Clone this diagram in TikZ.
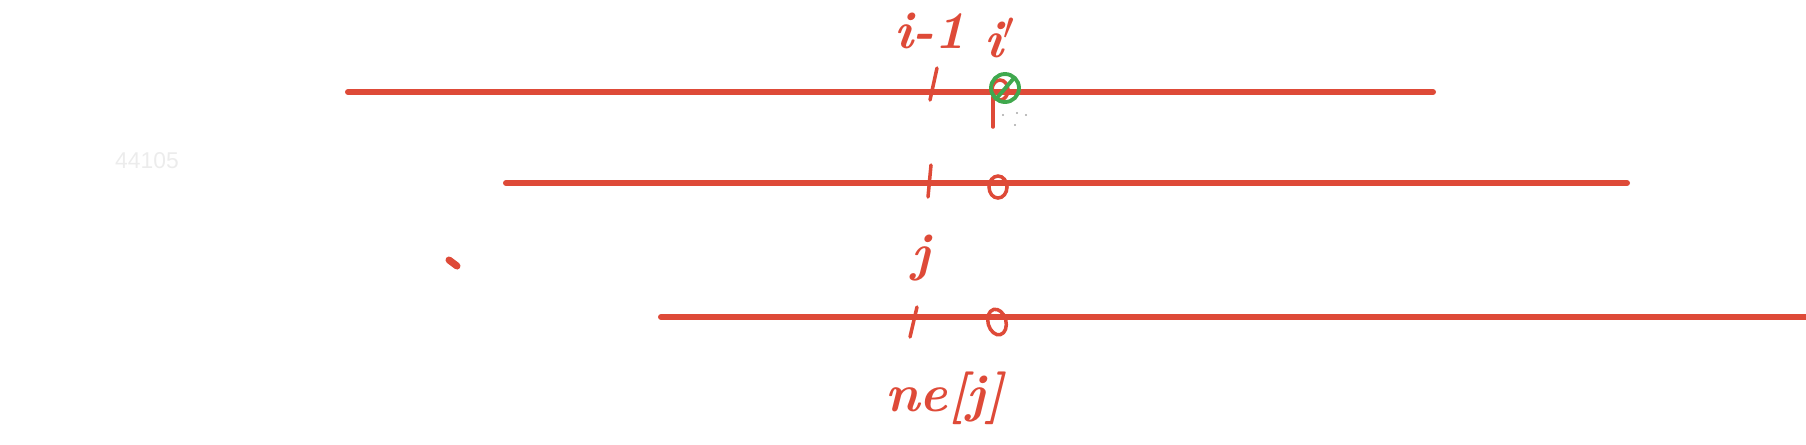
\documentclass[tikz,border=0pt]{standalone}
\usepackage{fontspec}
\newfontfamily\markfont{Liberation Sans}
\definecolor{ink}{RGB}{222,74,56}
\definecolor{pengreen}{RGB}{64,168,78}
\definecolor{faint}{RGB}{236,236,236}

\begin{document}
\begin{tikzpicture}[
  x=0.01cm, y=-0.01cm,
  every node/.style = {font=\fontsize{15}{15}\selectfont\bfseries\itshape, text=ink, inner sep=0pt},
  track/.style = {ink, line width=1.7pt, line cap=round},
  tick/.style  = {ink, line width=1pt, line cap=round},
  zero/.style  = {ink, line width=1pt},
]

%% ── Canvas: 1 unit = 1 px of the 1806 x 444 sheet ───────────────────────────
\useasboundingbox (0,0) rectangle (1806,444);

%% ── Row y-coordinates ────────────────────────────────────────────────────────
\def\yA{92}    % top row
\def\yB{183}   % middle row
\def\yC{317}   % bottom row

%% ── Rows ─────────────────────────────────────────────────────────────────────
\coordinate (rowA-w) at (348, \yA);
\coordinate (rowA-e) at (1433, \yA);
\coordinate (rowB-w) at (506, \yB);
\coordinate (rowB-e) at (1627, \yB);
\coordinate (rowC-w) at (661, \yC);
\coordinate (rowC-e) at (1806, \yC);
\draw[track] (rowA-w) -- (rowA-e);
\draw[track] (rowB-w) -- (rowB-e);
\draw[track] (rowC-w) -- (rowC-e);

%% ── Ticks on the i-1 column ──────────────────────────────────────────────────
\draw[tick] (937, 68) -- (930, 100);
\draw[tick] (931, 165) -- (928, 197);
\draw[tick] (917, 307) -- (910, 337);

%% ── Zeros on the i' column ───────────────────────────────────────────────────
\draw[zero] (1000, 90) ellipse [x radius=0.08cm, y radius=0.1cm];
\draw[zero] (998, 187) ellipse [x radius=0.09cm, y radius=0.11cm];
\draw[zero, rotate around={15:(997,322)}] (997, 322) ellipse [x radius=0.09cm, y radius=0.13cm];
\draw[tick] (993, 97) -- (993, 127);

% green mark on the top zero
\draw[pengreen, line width=1.1pt] (1005, 88) circle [radius=0.14cm];
\draw[pengreen, line width=1.1pt, line cap=round] (996, 99) -- (1014, 78);

% stray dots
\foreach \px/\py in {1003/115, 1017/113, 1026/115, 1015/125}{
  \fill[gray!70] (\px, \py) circle [radius=0.012cm];
}
\draw[ink, line width=2pt, line cap=round] (449, 260) -- (457, 266);

%% ── Labels ───────────────────────────────────────────────────────────────────
\node (lblPrev) at (930, 31) {i-1};
\node (lblCur)  at (1000, 38) {i$'$};
\node (lblJ)    at (921, 258) {j};
\node (lblNe)   at (945, 398) {ne[j]};

%% ── Watermark ────────────────────────────────────────────────────────────────
\node[font=\markfont\fontsize{6.5}{6.5}\selectfont, text=faint]
  (lblMark) at (147, 161) {44105};

\end{tikzpicture}
\end{document}
